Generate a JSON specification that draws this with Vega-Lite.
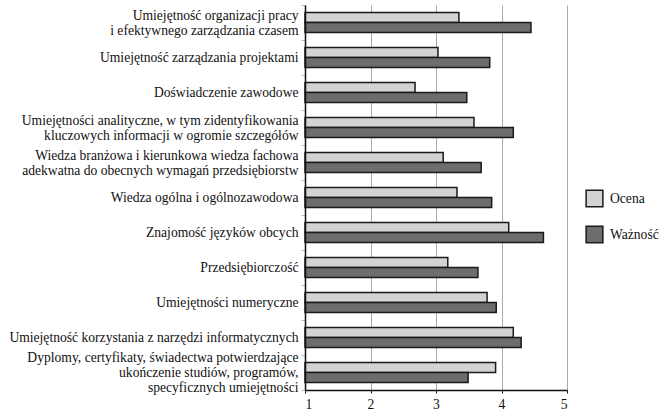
{
  "$schema": "https://vega.github.io/schema/vega-lite/v6.json",
  "autosize": {"type": "none"},
  "padding": {"left": 305, "top": 5, "right": 105, "bottom": 28},
  "width": 262,
  "height": 385,
  "background": "white",
  "data": {
    "values": [
      {"kategoria": "Umiejętność organizacji pracy\ni efektywnego zarządzania czasem", "seria": "Ocena", "wartosc": 3.35},
      {"kategoria": "Umiejętność organizacji pracy\ni efektywnego zarządzania czasem", "seria": "Ważność", "wartosc": 4.45},
      {"kategoria": "Umiejętność zarządzania projektami", "seria": "Ocena", "wartosc": 3.03},
      {"kategoria": "Umiejętność zarządzania projektami", "seria": "Ważność", "wartosc": 3.82},
      {"kategoria": "Doświadczenie zawodowe", "seria": "Ocena", "wartosc": 2.68},
      {"kategoria": "Doświadczenie zawodowe", "seria": "Ważność", "wartosc": 3.47},
      {"kategoria": "Umiejętności analityczne, w tym zidentyfikowania\nkluczowych informacji w ogromie szczegółów", "seria": "Ocena", "wartosc": 3.58},
      {"kategoria": "Umiejętności analityczne, w tym zidentyfikowania\nkluczowych informacji w ogromie szczegółów", "seria": "Ważność", "wartosc": 4.18},
      {"kategoria": "Wiedza branżowa i kierunkowa wiedza fachowa\nadekwatna  do obecnych wymagań przedsiębiorstw", "seria": "Ocena", "wartosc": 3.11},
      {"kategoria": "Wiedza branżowa i kierunkowa wiedza fachowa\nadekwatna  do obecnych wymagań przedsiębiorstw", "seria": "Ważność", "wartosc": 3.69},
      {"kategoria": "Wiedza ogólna i ogólnozawodowa", "seria": "Ocena", "wartosc": 3.32},
      {"kategoria": "Wiedza ogólna i ogólnozawodowa", "seria": "Ważność", "wartosc": 3.85},
      {"kategoria": "Znajomość języków obcych", "seria": "Ocena", "wartosc": 4.11},
      {"kategoria": "Znajomość języków obcych", "seria": "Ważność", "wartosc": 4.64},
      {"kategoria": "Przedsiębiorczość", "seria": "Ocena", "wartosc": 3.18},
      {"kategoria": "Przedsiębiorczość", "seria": "Ważność", "wartosc": 3.64},
      {"kategoria": "Umiejętności numeryczne", "seria": "Ocena", "wartosc": 3.78},
      {"kategoria": "Umiejętności numeryczne", "seria": "Ważność", "wartosc": 3.92},
      {"kategoria": "Umiejętność korzystania z narzędzi informatycznych", "seria": "Ocena", "wartosc": 4.18},
      {"kategoria": "Umiejętność korzystania z narzędzi informatycznych", "seria": "Ważność", "wartosc": 4.30},
      {"kategoria": "Dyplomy, certyfikaty, świadectwa potwierdzające\nukończenie studiów, programów,\nspecyficznych umiejętności", "seria": "Ocena", "wartosc": 3.91},
      {"kategoria": "Dyplomy, certyfikaty, świadectwa potwierdzające\nukończenie studiów, programów,\nspecyficznych umiejętności", "seria": "Ważność", "wartosc": 3.49}
    ]
  },
  "mark": {"type": "bar", "stroke": "#1a1a1a", "strokeWidth": 1.5},
  "encoding": {
    "y": {
      "field": "kategoria",
      "type": "nominal",
      "sort": null,
      "scale": {"paddingInner": 0, "paddingOuter": 0},
      "axis": {
        "title": null,
        "labelExpr": "split(datum.label, '\\n')",
        "labelFont": "Liberation Serif",
        "labelFontSize": 13.6,
        "labelColor": "#111",
        "labelLineHeight": 15,
        "labelLimit": 320,
        "labelPadding": 3,
        "labelOffset": {"expr": "-(length(split(datum.label, '\\n')) - 1) * 7.5"},
        "tickBand": "extent",
        "tickSize": 4,
        "tickColor": "#bbbbbb",
        "domainColor": "#111",
        "domainWidth": 1.5,
        "zindex": 1
      }
    },
    "x": {
      "field": "wartosc",
      "type": "quantitative",
      "scale": {"domain": [1, 5], "nice": false, "zero": false},
      "axis": {
        "title": null,
        "values": [1, 2, 3, 4, 5],
        "labelFont": "Liberation Serif",
        "labelFontSize": 13.6,
        "labelColor": "#111",
        "labelPadding": 4,
        "tickSize": 3,
        "tickColor": "#111",
        "domainColor": "#111",
        "domainWidth": 1.5,
        "grid": true,
        "gridColor": "#aaaaaa",
        "gridWidth": 1
      }
    },
    "x2": {"datum": 1},
    "yOffset": {
      "field": "seria",
      "type": "nominal",
      "sort": ["Ocena", "Ważność"],
      "scale": {"paddingInner": 0, "paddingOuter": 0.75}
    },
    "fill": {
      "field": "seria",
      "type": "nominal",
      "sort": ["Ocena", "Ważność"],
      "scale": {"domain": ["Ocena", "Ważność"], "range": ["#d3d3d3", "#6d6d6d"]},
      "legend": {
        "title": null,
        "orient": "none",
        "legendX": 280,
        "legendY": 184,
        "symbolType": "square",
        "symbolSize": 280,
        "symbolStrokeColor": "#1a1a1a",
        "symbolStrokeWidth": 1.5,
        "labelFont": "Liberation Serif",
        "labelFontSize": 13.6,
        "labelColor": "#111",
        "labelOffset": 6,
        "rowPadding": 13
      }
    }
  },
  "config": {"view": {"stroke": null}}
}
